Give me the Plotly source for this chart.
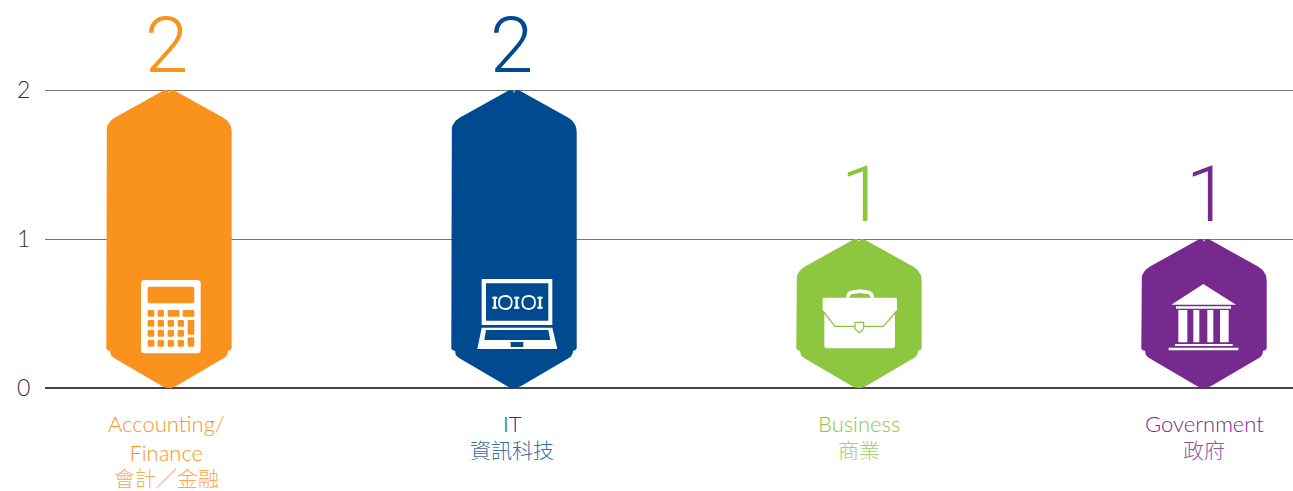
import plotly.graph_objects as go

# ---- data
categories_en = ["Accounting/<br>Finance", "IT", "Business", "Government"]
categories_zh = ["會計／金融", "資訊科技", "商業", "政府"]
values = [2, 2, 1, 1]
colors = ["#F9931D", "#004A8F", "#8DC63F", "#762A8E"]
y_ticks = [0, 1, 2]

# ---- layout constants
W, H = 1293, 491
PLOT_L, BASE_PX = 45, 388
PX_PER_Y = 149.0
PX_PER_X = 345.0
C0 = 169.0
LATIN = "Lato Light, Lato, sans-serif"
CJK = "Noto Sans CJK TC"


def bez(p0, c, p1, n=8):
    out = []
    for i in range(1, n + 1):
        t = i / n
        out.append(((1 - t) ** 2 * p0[0] + 2 * t * (1 - t) * c[0] + t ** 2 * p1[0],
                    (1 - t) ** 2 * p0[1] + 2 * t * (1 - t) * c[1] + t ** 2 * p1[1]))
    return out


def bar_outline(cat, val):
    """Hexagonal bar outline; the height comes from the value through the y axis."""
    top = [(0, 3.0), (1.0, 0.6)] + [(2.5, 0), (5, 0.3), (54, 27.5)]
    top += bez((54, 27.5), (62.7, 32.5), (62.7, 42))
    bottom = [(62.7, 39.7)]
    bottom += bez((62.7, 39.7), (62.5, 37.8), (59, 37.2), 4)
    bottom += bez((59, 37.2), (59.0, 32), (54.5, 29.7), 5)
    bottom += [(7.6, 2.2)]
    bottom += bez((7.6, 2.2), (4, 0), (0, 0), 5)
    xs, ys = [], []
    right_top = [(dx, val - dy / PX_PER_Y) for dx, dy in top]
    right_bot = [(dx, up / PX_PER_Y) for dx, up in bottom]
    right = right_top + right_bot
    left = [(-dx, y) for dx, y in reversed(right)]
    for dx, y in right + left[1:]:
        xs.append(cat + dx / PX_PER_X)
        ys.append(y)
    return xs, ys


fig = go.Figure()
for i, v in enumerate(values):
    xs, ys = bar_outline(i, v)
    fig.add_trace(go.Scatter(x=xs, y=ys, mode="lines", fill="toself", fillcolor=colors[i],
                             line=dict(width=0, color=colors[i]), hoverinfo="skip", showlegend=False))

shapes = []


def path_shape(cat, path, fill="#FFFFFF", line=None, lw=0):
    shapes.append(dict(type="path", xref="x", yref="y", xsizemode="pixel", ysizemode="pixel",
                       xanchor=cat, yanchor=0, path=path,
                       fillcolor=fill, line=dict(width=lw, color=line or "rgba(0,0,0,0)")))


def poly(pts, close=True):
    s = "M" + " L".join(f"{x:.2f},{y:.2f}" for x, y in pts)
    return s + (" Z" if close else "")


def rrect(x0, y0, x1, y1, r):
    return (f"M{x0+r:.2f},{y0:.2f} L{x1-r:.2f},{y0:.2f} Q{x1:.2f},{y0:.2f} {x1:.2f},{y0+r:.2f} "
            f"L{x1:.2f},{y1-r:.2f} Q{x1:.2f},{y1:.2f} {x1-r:.2f},{y1:.2f} "
            f"L{x0+r:.2f},{y1:.2f} Q{x0:.2f},{y1:.2f} {x0:.2f},{y1-r:.2f} "
            f"L{x0:.2f},{y0+r:.2f} Q{x0:.2f},{y0:.2f} {x0+r:.2f},{y0:.2f} Z")


def z(cx_zoom, base_zoom):
    """Converter from 3x-crop coordinates to pixels relative to the icon anchor."""
    return lambda x, y: ((x - cx_zoom) / 3.0, (base_zoom - y) / 3.0)


def zrect(conv, x0, y0, x1, y1, r):
    a = conv(x0, y1)
    b = conv(x1, y0)
    return rrect(a[0], a[1], b[0], b[1], r)


# --- calculator
c = z(237, 924)
path_shape(0, zrect(c, 153, 600, 332, 820, 3.5))
o = colors[0]
path_shape(0, zrect(c, 173, 620, 313, 670, 2), fill=o)
cols = [(173, 193), (203, 222), (233, 252), (263, 282)]
for (a, b) in [(173, 193), (203, 222), (233, 268), (278, 313)]:
    path_shape(0, zrect(c, a, 690, b, 710, 1.2), fill=o)
for (t, u) in [(720, 740), (750, 770), (780, 800)]:
    for (a, b) in cols:
        path_shape(0, zrect(c, a, t, b, u, 1.2), fill=o)
path_shape(0, zrect(c, 293, 720, 313, 764, 1.2), fill=o)
path_shape(0, zrect(c, 293, 772, 313, 800, 1.2), fill=o)

# --- laptop
l = z(222, 384)
b = colors[1]
path_shape(1, zrect(l, 125, 57, 337, 195, 0.3))
path_shape(1, zrect(l, 138, 70, 325, 182, 0.2), fill=b)
path_shape(1, poly([l(125, 203), l(337, 203), l(352, 267), l(112, 267)]))
path_shape(1, poly([l(138, 210), l(325, 210), l(331, 240), l(133, 240)]), fill=b)
path_shape(1, zrect(l, 212, 246, 250, 261, 0.2), fill=b)
for x0, x1 in [(157, 172), (222, 238), (292, 308)]:
    path_shape(1, zrect(l, x0, 110, x1, 116, 0.2))
    path_shape(1, zrect(l, x0, 140, x1, 146, 0.2))
    m = (x0 + x1) / 2
    path_shape(1, zrect(l, m - 3.5, 110, m + 3.5, 146, 0.2))
for cx in (196, 266):
    pts = [l(cx - 19, 127), l(cx, 108), l(cx + 19, 127), l(cx, 147)]
    path_shape(1, (f"M{pts[0][0]:.2f},{pts[0][1]:.2f} Q{pts[0][0]:.2f},{pts[1][1]:.2f} {pts[1][0]:.2f},{pts[1][1]:.2f} "
                   f"Q{pts[2][0]:.2f},{pts[1][1]:.2f} {pts[2][0]:.2f},{pts[2][1]:.2f} "
                   f"Q{pts[2][0]:.2f},{pts[3][1]:.2f} {pts[3][0]:.2f},{pts[3][1]:.2f} "
                   f"Q{pts[0][0]:.2f},{pts[3][1]:.2f} {pts[0][0]:.2f},{pts[0][1]:.2f} Z"),
               fill="rgba(0,0,0,0)", line="#FFFFFF", lw=1.8)

# --- briefcase
g = z(222, 474)
gr = colors[2]
path_shape(2, poly([g(183, 203), g(186, 190), g(196, 182), g(225, 178), g(254, 182), g(264, 190), g(268, 203),
                    g(258, 203), g(252, 193), g(225, 189), g(198, 193), g(192, 203)]))
body = [g(116, 203), g(333, 203), g(336, 206), g(336, 240), g(330, 250), g(330, 350), g(325, 355),
        g(123, 355), g(118, 350), g(118, 250), g(113, 240), g(113, 206)]
path_shape(2, poly(body))
path_shape(2, poly([g(114, 243), g(150, 289), g(295, 289), g(335, 243)], close=False),
           fill="rgba(0,0,0,0)", line=gr, lw=1.3)
path_shape(2, poly([g(210, 277), g(236, 277), g(236, 297), g(223, 308), g(210, 297)]), line=gr, lw=1.2)

# --- bank
k = z(222, 474)
path_shape(3, poly([k(220, 162), k(318, 224), k(124, 224)]))
path_shape(3, zrect(k, 138, 229, 303, 236, 0))
for a, e in [(145, 172), (190, 208), (232, 250), (270, 296)]:
    path_shape(3, zrect(k, a, 240, e, 337, 0))
path_shape(3, zrect(k, 135, 342, 308, 348, 0))
path_shape(3, zrect(k, 116, 353, 325, 361, 0))

annotations = []
for i, v in enumerate(values):
    annotations.append(dict(x=i, y=v, xref="x", yref="y", text=str(v), showarrow=False,
                            xanchor="center", yanchor="bottom", yshift=-3, xshift=-3 if v == 2 else 3,
                            font=dict(family="Roboto Light, Roboto", size=78, weight=300,
                                      color=colors[i])))
    xshift = [-3, -2, 0, 0][i]
    en_lines = categories_en[i].count("<br>") + 1
    annotations.append(dict(x=i, y=0, xref="x", yref="y", text=categories_en[i], showarrow=False,
                            xanchor="center", yanchor="top", xshift=xshift, yshift=-20,
                            font=dict(family=LATIN, size=22, color=colors[i])))
    annotations.append(dict(x=i, y=0, xref="x", yref="y", text=categories_zh[i], showarrow=False,
                            xanchor="center", yanchor="top", xshift=xshift,
                            yshift=-15.5 - 28 * en_lines, opacity=0.8,
                            font=dict(family=CJK, size=21, color=colors[i], weight=300)))

fig.update_layout(
    width=W, height=H,
    margin=dict(l=PLOT_L, r=0, t=0, b=H - BASE_PX, pad=0),
    paper_bgcolor="#FFFFFF", plot_bgcolor="#FFFFFF",
    showlegend=False,
    shapes=shapes,
    annotations=annotations,
    xaxis=dict(visible=False, range=[(PLOT_L - C0) / PX_PER_X, (W - C0) / PX_PER_X], fixedrange=True),
    yaxis=dict(range=[0, BASE_PX / PX_PER_Y], tickmode="array", tickvals=y_ticks,
               ticktext=[str(t) for t in y_ticks], showgrid=True, gridcolor="#777777", gridwidth=1,
               zeroline=True, zerolinecolor="#444444", zerolinewidth=1.5, showline=False,
               ticks="outside", ticklen=9, tickcolor="rgba(0,0,0,0)",
               tickfont=dict(family=LATIN, size=23, color="#333333"), fixedrange=True),
)

fig.write_html("out.html", post_script="document.body.style.margin='0';document.body.style.overflow='hidden';",
               config=dict(displayModeBar=False))
